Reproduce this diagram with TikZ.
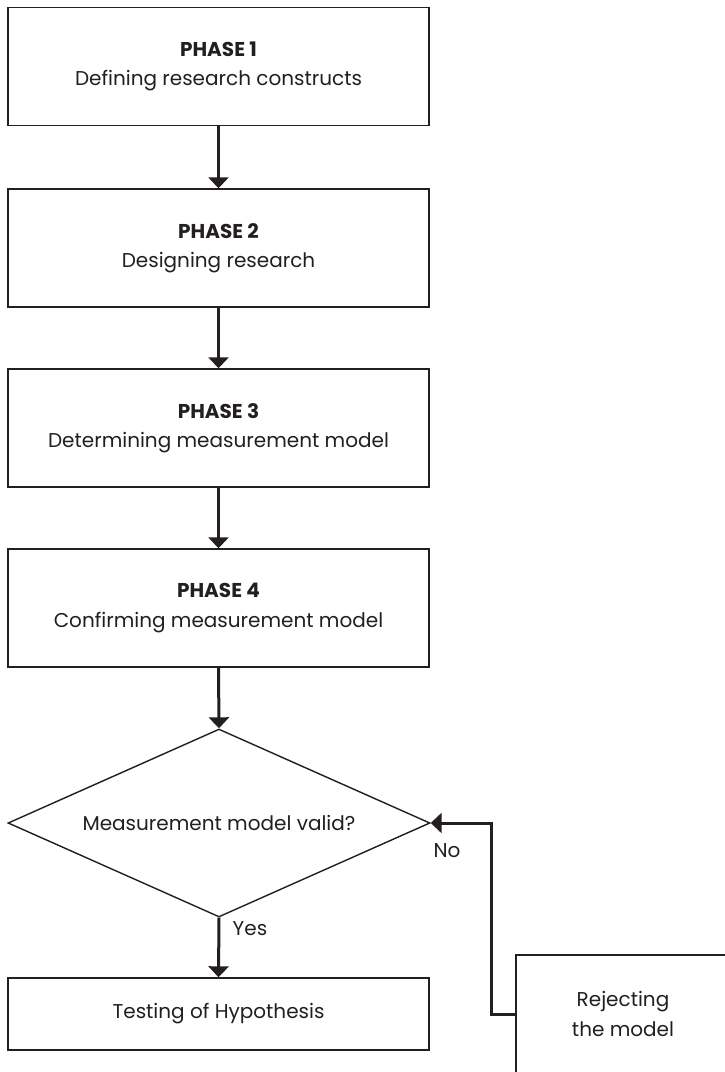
\documentclass[tikz,border=0pt]{standalone}
\usepackage{fontspec}
\setmainfont{Poppins}
\usetikzlibrary{shapes.geometric,arrows.meta}
\definecolor{ink}{HTML}{231F20}
\begin{document}
\begin{tikzpicture}[x=1pt,y=-1pt,
  box/.style={draw=ink,line width=1.4pt,rectangle,minimum width=421pt,minimum height=118pt,inner sep=0pt,align=center,text=ink,font=\fontsize{20}{29.5}\selectfont},
  decision/.style={draw=ink,line width=1.4pt,diamond,aspect=2.245,minimum width=422pt,minimum height=188pt,inner sep=0pt,align=center,text=ink,font=\fontsize{20}{29}\selectfont},
  flow/.style={draw=ink,line width=3pt,-{Triangle[width=20pt,length=11pt]}},
  lbl/.style={text=ink,font=\fontsize{20}{24}\selectfont,inner sep=0pt}]
\clip (0,0) rectangle (725,1072);
\fill[white] (0,0) rectangle (725,1072);
\node[box] (p1) at (218.5,66.5) {\textbf{PHASE 1}\\Defining research constructs};
\node[box] (p2) at (218.5,248) {\textbf{PHASE 2}\\Designing research};
\node[box] (p3) at (218.5,428) {\textbf{PHASE 3}\\Determining measurement model};
\node[box] (p4) at (218.5,608) {\textbf{PHASE 4}\\Confirming measurement model};
\node[decision] (d) at (219,823) {Measurement model valid?};
\node[box,minimum height=72pt] (t) at (218.5,1014) {Testing of Hypothesis};
\node[box,minimum width=214pt] (r) at (623,1014) {Rejecting\\the model};
\coordinate (c1) at (491,1014);
\coordinate (c2) at (491,823);
\draw[flow] (p1.south) -- (p2.north);
\draw[flow] (p2.south) -- (p3.north);
\draw[flow] (p3.south) -- (p4.north);
\draw[flow] (p4.south) -- (d.north);
\draw[flow] (d.south) -- (t.north);
\draw[flow] (r.west) -- (c1) -- (c2) -- (d.east);
\node[lbl] (yes) at (250,929) {Yes};
\node[lbl] (no) at (447,851) {No};
\end{tikzpicture}
\end{document}
